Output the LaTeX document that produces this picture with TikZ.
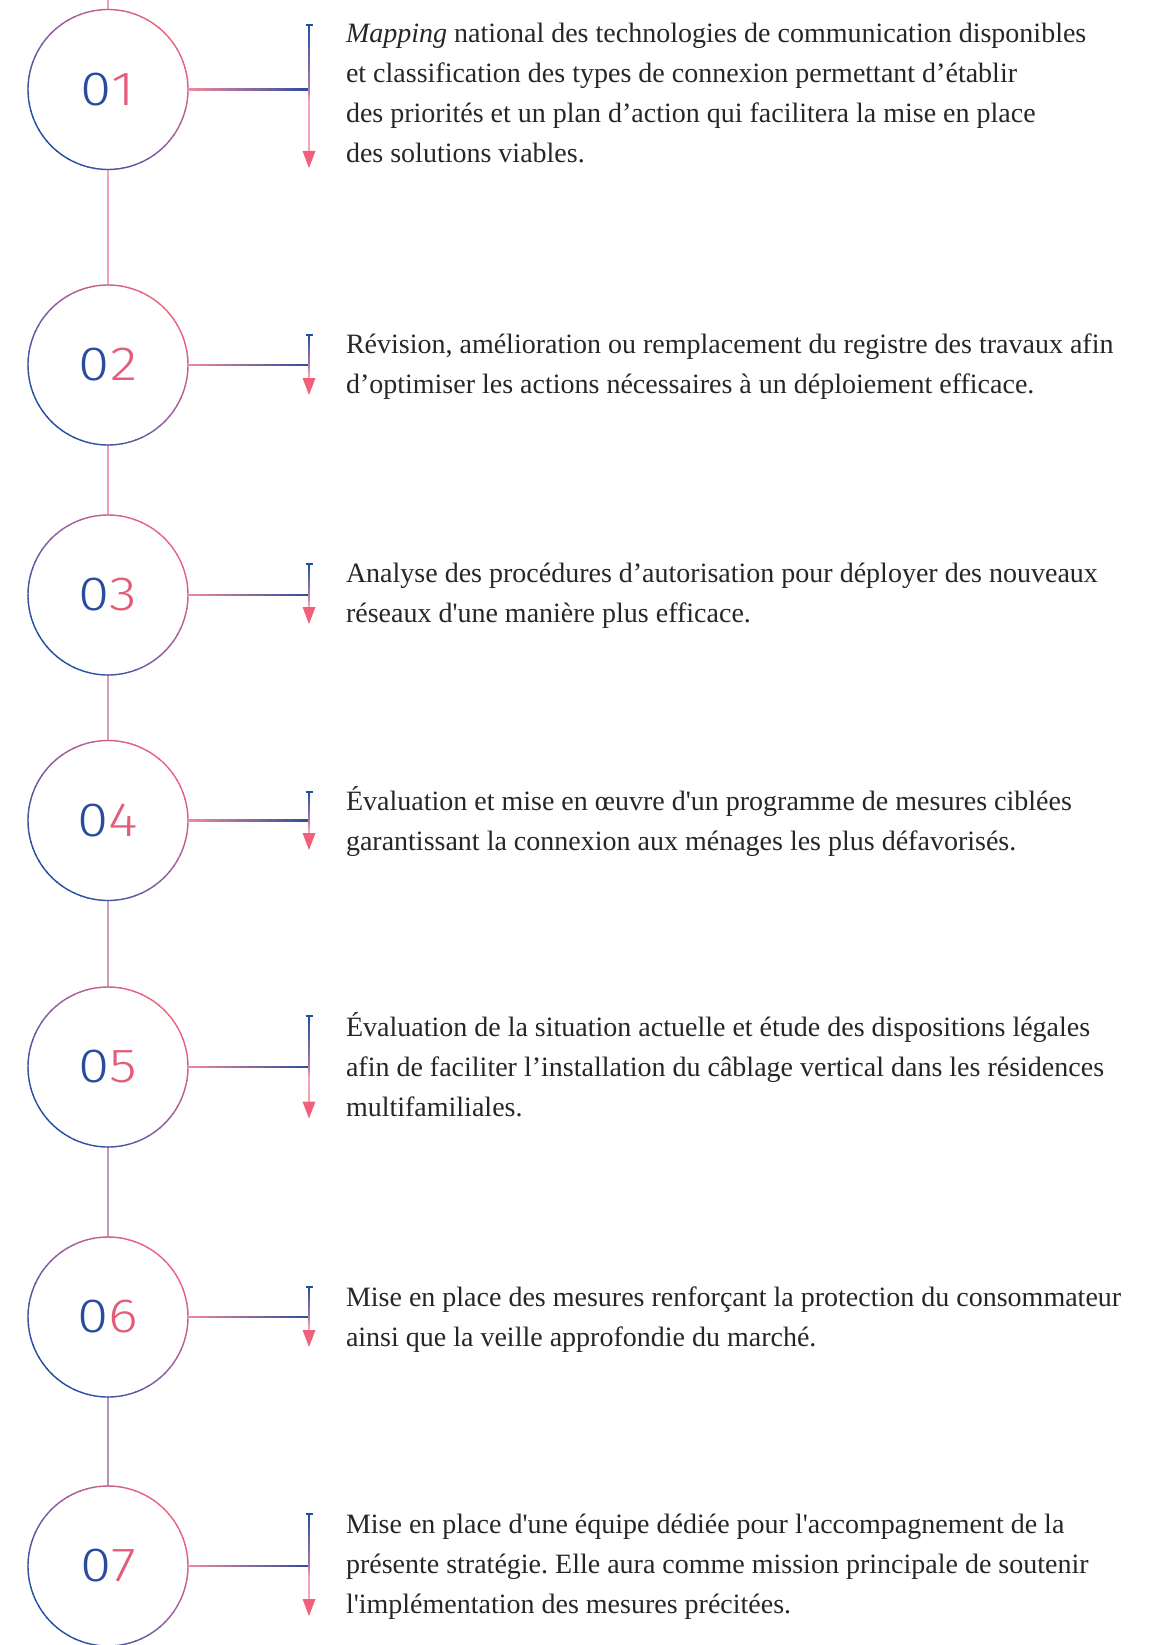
\documentclass[tikz,border=0pt]{standalone}
\usepackage{fontspec}
\newfontfamily\bodyfont{Liberation Serif}
\newfontfamily\numfont{Fira Sans Light}[FakeStretch=1.18]
\usetikzlibrary{calc,arrows.meta}
\definecolor{bluec}{HTML}{1F4FA3}
\definecolor{pinkc}{HTML}{EC6380}
\definecolor{purplec}{HTML}{8E5CA0}
\definecolor{arrowc}{HTML}{F0607A}
\definecolor{lightpink}{HTML}{F5A3B3}
\definecolor{mauve}{HTML}{AE94C0}
\definecolor{textc}{HTML}{262626}
\definecolor{numblue}{HTML}{2A4C9E}
\definecolor{numpink}{HTML}{E45C7A}
\definecolor{hleft}{HTML}{F28A9C}
\definecolor{hright}{HTML}{2B4C9E}
\definecolor{barmid}{HTML}{B07AA8}
\tikzset{
  numnode/.style={circle, minimum size=160pt, inner sep=0pt, outer sep=0pt,
    font=\numfont\fontsize{48}{48}\selectfont},
  txt/.style={anchor=base west, inner sep=0pt, outer sep=0pt, text=textc,
    font=\bodyfont\fontsize{28}{40}\selectfont\frenchspacing},
  tline/.style={line width=1.4pt},
  tick/.style={bluec, line width=1.2pt},
}
\newcommand\gradcirc[1]{%
  \foreach \a in {0,5,...,355}{%
    \pgfmathsetmacro\gt{cos(\a-40)}%
    \pgfmathsetmacro\gu{100*abs(\gt)}%
    \ifdim\gt pt<0pt\colorlet{arcc}{bluec!\gu!purplec}\else\colorlet{arcc}{pinkc!\gu!purplec}\fi
    \draw[arcc, line width=1.4pt] ([shift={(\a:80pt)}]#1.center) arc[start angle=\a, end angle=\a+5.6, radius=80pt];
  }}
\newcommand\numtxt[2]{{\color{numblue}#1}{\color{numpink}#2}}
\begin{document}
\begin{tikzpicture}[x=1pt,y=1pt]
\useasboundingbox (0,0) rectangle (1171,-1645);
% circles and connector coordinates
\foreach \i/\c/\t/\a in {1/89.5/25/168, 2/365/335/395, 3/595/564/624, 4/820.5/792/850, 5/1067/1016/1118.5, 6/1317/1287/1347, 7/1566/1514/1616}{
  \node[numnode] (c\i) at (108,-\c) {\numtxt{0}{\i}};
  \coordinate (h\i) at (309,-\c);
  \coordinate (t\i) at (309,-\t);
  \coordinate (a\i) at (309,-\a);
}
\coordinate (top) at (108,0);
% timeline
\draw[tline, lightpink] (top) -- (c1.north);
\draw[tline, lightpink] (c1.south) -- (c2.north);
\draw[tline, lightpink!85!mauve] (c2.south) -- (c3.north);
\draw[tline, lightpink!68!mauve] (c3.south) -- (c4.north);
\draw[tline, lightpink!50!mauve] (c4.south) -- (c5.north);
\draw[tline, lightpink!28!mauve] (c5.south) -- (c6.north);
\draw[tline, mauve] (c6.south) -- (c7.north);
% gradient circles, connectors, bars
\foreach \i in {1,...,7}{
  \gradcirc{c\i}
  \shade[left color=hleft, right color=hright] ($(c\i.east)+(0,-0.7)$) rectangle ($(h\i)+(0,0.7)$);
  \draw[tline, lightpink] (h\i) -- ($(a\i)+(0,8)$);
  \shade[top color=bluec, bottom color=barmid] ($(t\i)+(-0.7,0)$) rectangle ($(h\i)+(0.7,0)$);
  \shade[top color=barmid, bottom color=lightpink] ($(h\i)+(-0.7,0)$) rectangle ($(h\i)+(0.7,-10)$);
  \draw[tick] ($(t\i)+(-3.5,0)$) -- ($(t\i)+(3.5,0)$);
  \fill[arrowc] (a\i) -- ++(-6.5,17) -- ++(13,0) -- cycle;
}
% texts
\node[txt] (x1) at (346,-43) {\parbox[t]{820pt}{\textit{Mapping} national des technologies de communication disponibles\\et classification des types de connexion permettant d’établir\\des priorités et un plan d’action qui facilitera la mise en place\\des solutions viables.}};
\node[txt] (x2) at (346,-353) {\parbox[t]{820pt}{Révision, amélioration ou remplacement du registre des travaux afin\\d’optimiser les actions nécessaires à un déploiement efficace.}};
\node[txt] (x3) at (346,-582) {\parbox[t]{820pt}{Analyse des procédures d’autorisation pour déployer des nouveaux\\réseaux d'une manière plus efficace.}};
\node[txt] (x4) at (346,-810.5) {\parbox[t]{820pt}{Évaluation et mise en œuvre d'un programme de mesures ciblées\\garantissant la connexion aux ménages les plus défavorisés.}};
\node[txt] (x5) at (346,-1036.5) {\parbox[t]{820pt}{Évaluation de la situation actuelle et étude des dispositions légales\\afin de faciliter l’installation du câblage vertical dans les résidences\\multifamiliales.}};
\node[txt] (x6) at (346,-1306) {\parbox[t]{820pt}{Mise en place des mesures renforçant la protection du consommateur\\ainsi que la veille approfondie du marché.}};
\node[txt] (x7) at (346,-1533) {\parbox[t]{820pt}{Mise en place d'une équipe dédiée pour l'accompagnement de la\\présente stratégie. Elle aura comme mission principale de soutenir\\l'implémentation des mesures précitées.}};
\end{tikzpicture}
\end{document}
